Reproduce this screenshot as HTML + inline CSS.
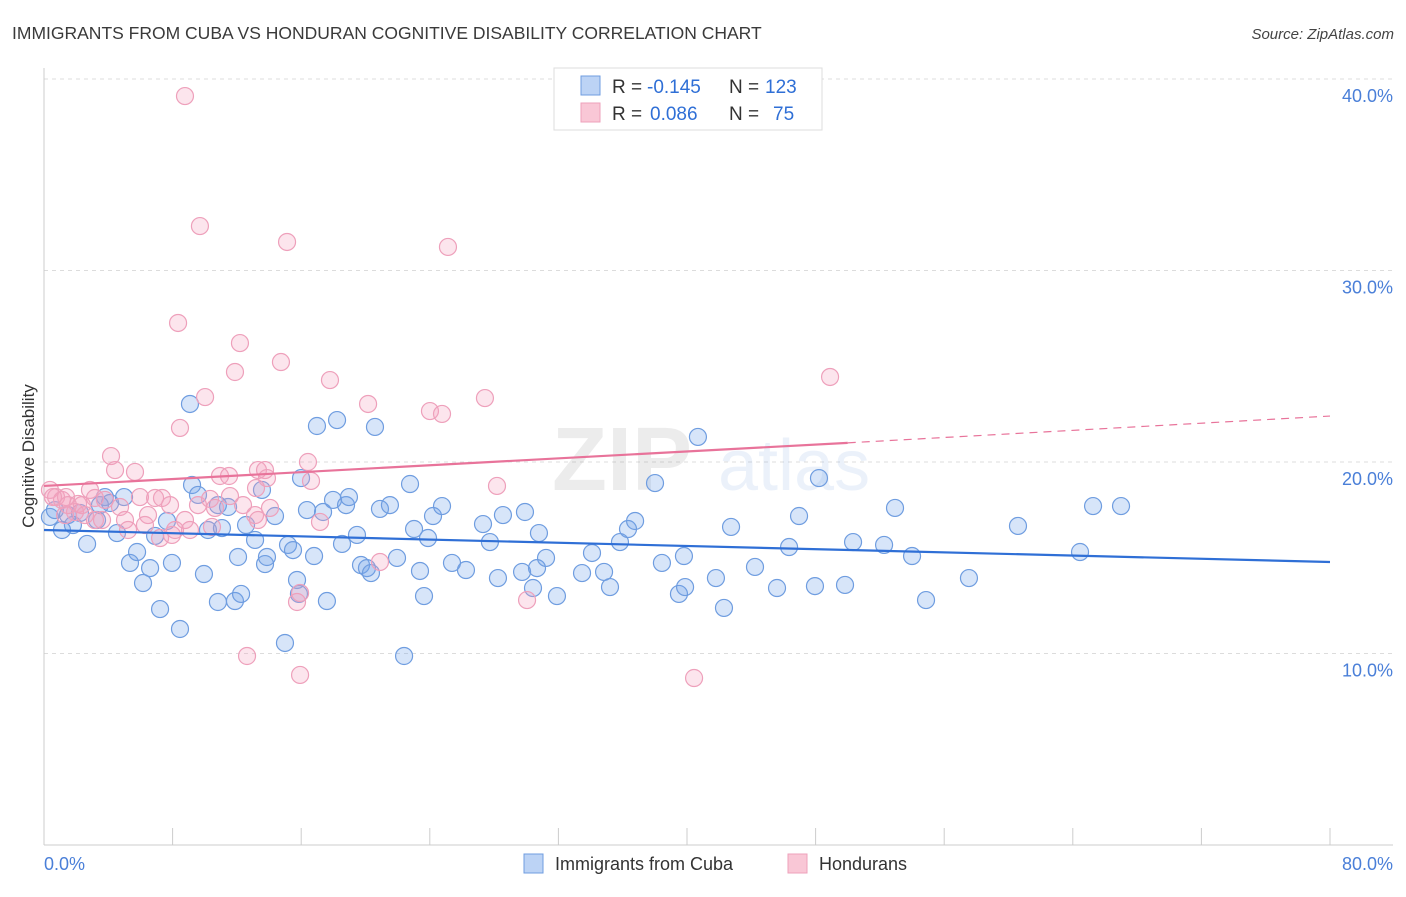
<!DOCTYPE html>
<html><head><meta charset="utf-8"><style>
body{margin:0;background:#fff;font-family:"Liberation Sans",sans-serif;}
svg text{font-family:"Liberation Sans",sans-serif;}
</style></head><body>
<svg id="chart" width="1406" height="892" viewBox="0 0 1406 892" xmlns="http://www.w3.org/2000/svg">
<text x="12" y="39" font-size="17.5" fill="#3a3a3a">IMMIGRANTS FROM CUBA VS HONDURAN COGNITIVE DISABILITY CORRELATION CHART</text>
<text x="1394" y="39" font-size="15" fill="#444" font-style="italic" text-anchor="end">Source: ZipAtlas.com</text>
<g id="grid"></g>
<g opacity="0.13">
<text x="552" y="490" font-size="90" font-family="Liberation Serif" fill="#777" font-weight="bold">ZIP</text>
<text x="718" y="490" font-size="72" fill="#6d9de0">atlas</text>
</g>
<line x1="44" y1="68" x2="44" y2="845" stroke="#ccc"/>
<line x1="44" y1="845" x2="1393" y2="845" stroke="#ccc"/>
<g id="xticks"></g>
<text transform="translate(34,456) rotate(-90)" font-size="17" fill="#333" text-anchor="middle">Cognitive Disability</text>
<text x="44" y="870" font-size="18" fill="#4a7fd8">0.0%</text>
<text x="1393" y="870" font-size="18" fill="#4a7fd8" text-anchor="end">80.0%</text>
<g id="points"></g>
<g id="trends"></g>
<g>
<rect x="554" y="68" width="268" height="62" fill="#fff" stroke="#ddd"/>
<rect x="581" y="76" width="19" height="19" fill="#bcd3f5" stroke="#6f9de0"/>
<rect x="581" y="103" width="19" height="19" fill="#f9c7d6" stroke="#eea0bb"/>
<text x="612" y="93" font-size="19" fill="#333">R =</text>
<text x="647" y="93" font-size="19" fill="#2f6fd6">-0.145</text>
<text x="729" y="93" font-size="19" fill="#333">N =</text>
<text x="765" y="93" font-size="19" fill="#2f6fd6">123</text>
<text x="612" y="120" font-size="19" fill="#333">R =</text>
<text x="650" y="120" font-size="19" fill="#2f6fd6">0.086</text>
<text x="729" y="120" font-size="19" fill="#333">N =</text>
<text x="773" y="120" font-size="19" fill="#2f6fd6">75</text>
</g>
<g>
<rect x="524" y="854" width="19" height="19" fill="#bcd3f5" stroke="#6f9de0"/>
<text x="555" y="870" font-size="18" fill="#333">Immigrants from Cuba</text>
<rect x="788" y="854" width="19" height="19" fill="#f9c7d6" stroke="#eea0bb"/>
<text x="819" y="870" font-size="18" fill="#333">Hondurans</text>
</g>
</svg>
<script>
const yTicks=[10,20,30,40];
const yTickLabels=["10.0%","20.0%","30.0%","40.0%"];
const xTicks=[8,16,24,32,40,48,56,64,72,80];
const cubaX=[0.37,0.68,1.12,1.49,1.80,2.24,2.68,3.30,3.79,4.11,4.54,4.98,5.35,5.79,6.16,6.60,6.91,7.22,7.65,7.96,8.46,9.08,9.21,9.58,9.95,10.20,10.82,10.82,11.07,11.45,11.88,12.07,12.26,12.57,13.13,13.56,13.75,13.87,14.37,14.99,15.18,15.49,15.74,15.86,15.99,16.36,16.80,16.98,17.36,17.60,17.98,18.23,18.54,18.79,18.97,19.47,19.72,20.09,20.34,20.59,20.90,21.52,21.96,22.40,22.77,23.02,23.39,23.64,23.89,24.20,24.76,25.38,26.25,27.31,27.74,28.24,28.55,29.74,29.92,30.42,30.67,30.79,31.23,31.91,33.47,34.09,34.84,35.21,35.83,36.33,36.77,38.01,38.44,39.50,39.81,39.88,40.68,41.80,42.30,42.74,44.23,45.60,46.35,46.97,47.96,48.21,49.83,50.33,52.26,52.94,54.00,54.87,57.54,60.59,64.45,65.26,67.00,3.48];
const cubaY=[17.13,17.49,16.45,17.23,16.71,17.34,15.72,16.97,18.17,17.86,16.29,18.17,14.73,15.30,13.68,14.46,16.14,12.32,16.92,14.73,11.28,23.03,18.80,18.28,14.15,16.45,12.69,17.75,16.55,17.65,12.74,15.04,13.11,16.71,15.93,18.54,14.67,15.04,17.18,10.55,15.67,15.40,13.84,13.11,19.16,17.49,15.09,21.88,17.39,12.74,18.02,22.19,15.72,17.75,18.17,16.19,14.62,14.46,14.20,21.83,17.55,17.75,14.99,9.87,18.85,16.50,14.31,13.00,16.03,17.18,17.70,14.73,14.36,16.76,15.82,13.94,17.23,14.26,17.39,13.42,14.46,16.29,14.99,13.00,14.20,15.25,14.26,13.47,15.82,16.50,16.92,18.90,14.73,13.11,15.09,13.47,21.31,13.94,12.38,16.61,14.52,13.42,15.56,17.18,13.52,19.16,13.58,15.82,15.67,17.60,15.09,12.79,13.94,16.66,15.30,17.70,17.70,17.75];
const hondX=[8.77,9.70,15.12,25.13,8.34,12.19,14.74,11.88,17.79,48.90,10.02,20.16,24.01,24.76,27.43,8.46,4.17,16.42,4.42,5.66,10.95,11.51,13.31,13.75,13.87,16.61,28.18,13.19,0.37,0.75,1.12,1.37,2.12,2.86,3.17,3.79,4.73,5.97,6.91,7.34,7.84,9.58,10.33,10.64,11.57,12.38,14.06,1.93,2.55,3.17,5.04,6.47,7.22,7.96,8.77,9.08,10.45,13.13,17.17,20.90,15.74,15.93,12.63,15.93,30.05,40.44,1.31,0.56,1.49,2.36,5.23,6.28,8.15,3.61,13.31];
const hondY=[39.11,32.32,31.49,31.23,27.26,26.21,25.22,24.70,24.28,24.44,23.39,23.03,22.66,22.51,23.34,21.78,20.31,20.00,19.58,19.48,19.27,19.27,19.58,19.58,19.16,19.01,18.75,18.64,18.54,18.17,18.02,18.17,17.81,18.54,18.12,18.02,17.65,18.17,18.12,18.12,17.75,17.75,18.07,17.60,18.22,17.75,17.60,17.39,17.23,16.97,16.97,17.23,16.03,16.19,16.97,16.45,16.61,17.23,16.87,14.78,12.69,13.16,9.87,8.88,12.79,8.72,17.23,18.17,17.75,17.75,16.45,16.71,16.45,16.97,16.97];
const cubaTrend=[16.45,14.78];
const hondTrend=[18.75,21.0,22.4];
const NS="http://www.w3.org/2000/svg";
function sx(v){return 44+v*16.075;}
function sy(v){return 845-v*19.15;}
function mk(tag,attrs,parent){const e=document.createElementNS(NS,tag);for(const k in attrs)e.setAttribute(k,attrs[k]);parent.appendChild(e);return e;}
const grid=document.getElementById('grid');
yTicks.forEach((t,i)=>{
  const l=mk('line',{x1:44,x2:1393,y1:sy(t),y2:sy(t),stroke:'#dcdcdc','stroke-dasharray':'4,4'},grid);
  
  
  const tx=mk('text',{x:1393,y:sy(t)+23,'font-size':18,fill:'#4a7fd8','text-anchor':'end'},grid);
  tx.textContent=yTickLabels[i];
  
  
});
const xt=document.getElementById('xticks');
xTicks.forEach(t=>{
  const l=mk('line',{x1:sx(t),x2:sx(t),y1:828,y2:845,stroke:'#ccc'},xt);
  
  
});
const pts=document.getElementById('points');
function plot(X,Y,fill,stroke,name){
  X.forEach((x,i)=>{
    const c=mk('circle',{cx:sx(x),cy:sy(Y[i]),r:8.5,fill:fill,stroke:stroke,'stroke-width':1.2},pts);
    
    
  });
}
plot(cubaX,cubaY,'rgba(110,160,235,0.28)','#6f9de0','point-cuba');
plot(hondX,hondY,'rgba(245,160,190,0.28)','#eea0bb','point-honduran');
const tr=document.getElementById('trends');
const bl=mk('line',{x1:sx(0),y1:sy(cubaTrend[0]),x2:sx(80),y2:sy(cubaTrend[1]),stroke:'#2f6fd6','stroke-width':2.2},tr);


const pl=mk('line',{x1:sx(0),y1:sy(hondTrend[0]),x2:sx(50),y2:sy(hondTrend[1]),stroke:'#e8739a','stroke-width':2.2},tr);


const pd=mk('line',{x1:sx(50),y1:sy(hondTrend[1]),x2:sx(80),y2:sy(hondTrend[2]),stroke:'#e8739a','stroke-width':1.2,'stroke-dasharray':'8,6'},tr);


</script>
</body></html>
